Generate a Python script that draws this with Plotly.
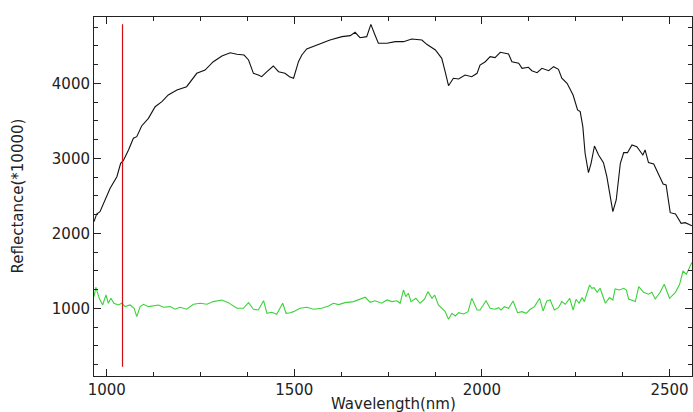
import plotly.graph_objects as go

# Black spectrum (wavelength nm, reflectance *10000)
black_wl = [966, 973, 982, 995, 1009, 1027, 1037, 1044, 1058, 1071, 1080, 1093, 1111, 1129,
            1147, 1164, 1187, 1213, 1240, 1262, 1284, 1307, 1329, 1347, 1366, 1378, 1391,
            1404, 1413, 1427, 1444, 1458, 1475, 1487, 1498, 1511, 1520, 1533, 1560, 1595,
            1627, 1649, 1662, 1675, 1693, 1704, 1715, 1724, 1747, 1769, 1791, 1813, 1840,
            1853, 1876, 1893, 1902, 1911, 1924, 1938, 1955, 1973, 1987, 1995, 2009, 2022,
            2035, 2049, 2071, 2080, 2098, 2107, 2124, 2133, 2147, 2160, 2178, 2191, 2204,
            2213, 2227, 2243, 2255, 2262, 2269, 2275, 2284, 2291, 2300, 2311, 2324, 2333,
            2349, 2358, 2369, 2378, 2388, 2400, 2413, 2429, 2435, 2444, 2458, 2471, 2483,
            2491, 2502, 2516, 2531, 2542, 2555, 2560]
black_val = [2155, 2257, 2288, 2444, 2600, 2755, 2933, 2968, 3111, 3267, 3288, 3431, 3533, 3688,
             3755, 3844, 3911, 3955, 4133, 4177, 4288, 4364, 4408, 4387, 4377, 4311, 4133,
             4111, 4088, 4155, 4231, 4155, 4133, 4088, 4067, 4288, 4377, 4457, 4511, 4577,
             4622, 4635, 4680, 4608, 4622, 4786, 4644, 4533, 4533, 4555, 4555, 4591, 4577,
             4520, 4444, 4333, 4155, 3968, 4067, 4057, 4111, 4088, 4133, 4244, 4288, 4355,
             4342, 4413, 4391, 4288, 4267, 4200, 4213, 4168, 4142, 4200, 4168, 4222, 4186,
             4067, 4000, 3844, 3644, 3622, 3422, 3067, 2808, 2933, 3164, 3044, 2942, 2755,
             2288, 2444, 2933, 3075, 3075, 3177, 3155, 3044, 3111, 2942, 2924, 2777, 2657,
             2644, 2275, 2257, 2133, 2142, 2111, 2100]

# Green spectrum
green_wl = [966, 971, 980, 989, 998, 1004, 1011, 1019, 1031, 1040, 1049, 1062, 1073, 1080,
            1089, 1098, 1111, 1124, 1138, 1151, 1169, 1182, 1195, 1213, 1231, 1249, 1267,
            1284, 1307, 1324, 1347, 1364, 1378, 1391, 1404, 1418, 1427, 1440, 1453, 1469,
            1478, 1489, 1498, 1515, 1533, 1551, 1573, 1591, 1604, 1618, 1635, 1658, 1675,
            1689, 1702, 1715, 1733, 1747, 1760, 1773, 1782, 1791, 1797, 1804, 1811, 1824,
            1835, 1847, 1856, 1867, 1874, 1884, 1902, 1911, 1920, 1929, 1938, 1951, 1963,
            1973, 1987, 1995, 2011, 2022, 2035, 2044, 2051, 2060, 2071, 2083, 2095, 2107,
            2118, 2129, 2140, 2154, 2163, 2173, 2182, 2193, 2204, 2213, 2222, 2234, 2243,
            2251, 2259, 2267, 2273, 2287, 2293, 2299, 2307, 2315, 2329, 2340, 2349, 2355,
            2367, 2378, 2385, 2391, 2409, 2418, 2431, 2444, 2453, 2462, 2475, 2486, 2500,
            2516, 2527, 2536, 2545, 2560]
green_val = [1155, 1280, 1133, 1044, 1177, 1067, 1133, 1067, 1044, 1067, 1022, 1044, 1000, 888,
             1022, 1053, 1022, 1031, 1044, 1013, 1022, 987, 1013, 987, 1053, 1067, 1053,
             1089, 1111, 1075, 1000, 1000, 1075, 987, 977, 1101, 933, 947, 920, 1067,
             933, 941, 955, 1000, 1013, 987, 1000, 1031, 1067, 1049, 1075, 1089, 1120,
             1147, 1080, 1101, 1067, 1111, 1089, 1101, 1067, 1244, 1155, 1200, 1089, 1133,
             1067, 1120, 1222, 1133, 1177, 1044, 955, 853, 933, 897, 941, 924, 955,
             1133, 977, 977, 1101, 1000, 987, 1008, 977, 1022, 1000, 1097, 941, 955,
             933, 987, 1022, 1133, 964, 1097, 1111, 977, 1008, 1089, 1053, 1133, 977,
             1120, 1067, 1142, 1089, 1311, 1267, 1275, 1213, 1267, 1067, 1142, 1111, 1257,
             1244, 1267, 1244, 1124, 1089, 1288, 1213, 1187, 1213, 1124, 1213, 1320, 1133,
             1213, 1320, 1497, 1453, 1613]

# Red marker line
marker_wl = [1042, 1042]
marker_val = [222, 4787]

x_range = [966, 2560]
y_range = [97, 4884]
x_ticks = [1000, 1500, 2000, 2500]
y_ticks = [1000, 2000, 3000, 4000]

fig = go.Figure()
fig.add_trace(go.Scatter(x=black_wl, y=black_val, mode="lines",
                         line=dict(color="#111111", width=1.1), hoverinfo="skip"))
fig.add_trace(go.Scatter(x=green_wl, y=green_val, mode="lines",
                         line=dict(color="#3cd23c", width=1.1), hoverinfo="skip"))
fig.add_trace(go.Scatter(x=marker_wl, y=marker_val, mode="lines",
                         line=dict(color="#d01010", width=1.2), hoverinfo="skip"))

font = dict(family="DejaVu Sans", size=15, color="#222222")
axis_common = dict(showgrid=False, zeroline=False, showline=True, linecolor="#222222",
                   linewidth=1, mirror="ticks", ticks="inside", ticklen=7, tickwidth=1,
                   tickcolor="#222222", tickfont=font)

fig.update_layout(
    width=693, height=412,
    margin=dict(l=94, r=1, t=17, b=36),
    paper_bgcolor="white", plot_bgcolor="white",
    showlegend=False,
    xaxis=dict(range=x_range, tickvals=x_ticks, ticktext=[str(v) for v in x_ticks],
               minor=dict(dtick=125, ticks="inside", ticklen=4, tickcolor="#222222"),
               **axis_common),
    yaxis=dict(range=y_range, tickvals=y_ticks, ticktext=[str(v) for v in y_ticks],
               minor=dict(dtick=250, ticks="inside", ticklen=4, tickcolor="#222222"),
               **axis_common),
    annotations=[
        dict(text="Wavelength(nm)", xref="paper", yref="paper", x=0.5, y=0,
             xanchor="center", yanchor="top", yshift=-17, showarrow=False,
             font=dict(family="DejaVu Sans", size=15, color="#222222")),
        dict(text="Reflectance(*10000)", xref="paper", yref="paper", x=0, y=0.5,
             xanchor="center", yanchor="middle", xshift=-77, textangle=-90,
             showarrow=False, font=dict(family="DejaVu Sans", size=15, color="#222222")),
    ],
)

fig.write_html("out.html", config={"displayModeBar": False},
               post_script="document.body.style.margin='0px';document.body.style.overflow='hidden';")
